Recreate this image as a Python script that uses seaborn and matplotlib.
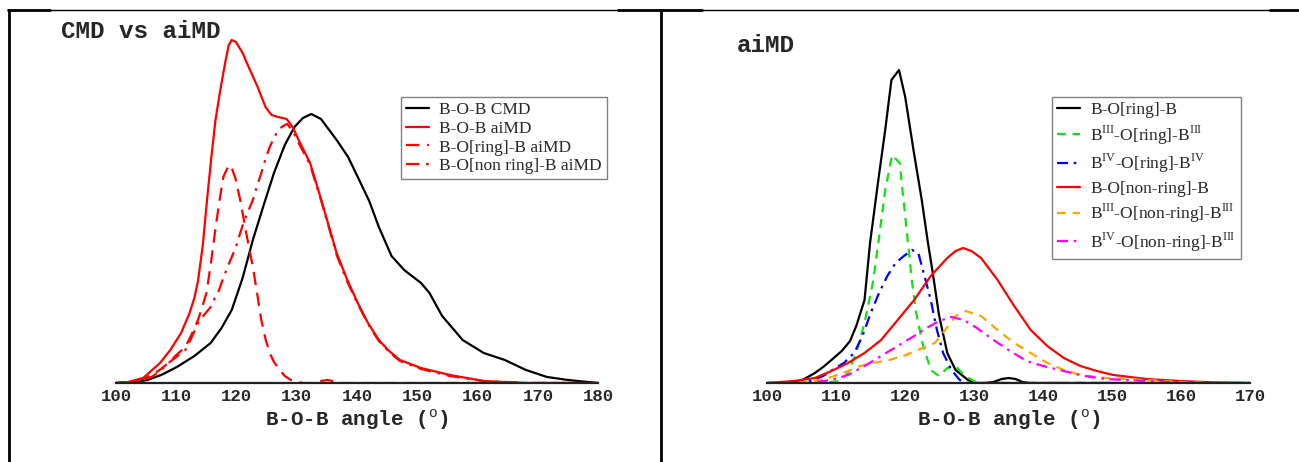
import matplotlib
matplotlib.use("Agg")
import matplotlib.pyplot as plt
import seaborn as sns
import numpy as np
from matplotlib.lines import Line2D

# ---------------- data (heights in arbitrary units) ----------------
# left panel: CMD vs aiMD
cmd_x = [100, 103, 105.2, 107.5, 110.1, 113, 115.7, 117.5, 119.2, 121, 122.7, 124.5, 126.2, 128,
         129.6, 131, 132.4, 134, 136.6, 138.5, 140.1, 142, 143.6, 145.7, 147.8, 150.6, 152, 154.1,
         157.5, 161, 164.5, 168, 171.5, 175, 180]
cmd_y = [0, 1, 3, 8, 16, 27, 40, 55, 73, 105, 143, 178, 210, 238, 256, 265, 269, 264, 243, 226,
         206, 182, 156, 127, 113, 100, 90, 67, 43, 30, 23, 13, 6, 3, 0]

aimd_x = [100, 102, 104.5, 107.3, 109, 110.8, 112.2, 113.0, 113.6, 114.4, 115.1, 115.8, 116.5,
          117.3, 118.1, 118.7, 119.2, 119.9, 121, 122, 123.5, 124.8, 125.8, 126.9, 128.3, 129.3,
          130.3, 132.2, 133.9, 135.3, 136.6, 138.3, 140.1, 141.8, 143.6, 145.3, 147.1, 150.6,
          155.4, 161, 168, 180]
aimd_y = [0, 1, 5, 20, 33, 50, 70, 85, 102, 138, 183, 225, 263, 293, 320, 338, 343, 341, 330,
          316, 296, 276, 268, 266, 264, 256, 243, 220, 186, 157, 130, 104, 80, 60, 43, 32, 23,
          15, 8, 2, 0, 0]

ring_x = [100, 103, 105.2, 107, 108.7, 110, 111.5, 112.5, 113.6, 114.3, 115, 115.7, 116.4, 117.1,
          117.8, 118.4, 119, 119.8, 120.6, 121.6, 122.7, 123.4, 124.1, 124.8, 125.5, 126.2, 126.9,
          128, 129, 131, 133, 134, 135, 136, 137, 140, 180]
ring_y = [0, 1, 6, 12, 20, 28, 36, 48, 63, 76, 90, 118, 150, 180, 206, 214, 218, 205, 183, 150,
          116, 90, 63, 44, 30, 21, 15, 7, 3, 0, 0, 2, 3, 2, 0, 0, 0]

nonring_x = [100, 103, 105.9, 107.5, 108.7, 110, 111.5, 112.5, 113.6, 114.6, 115.7, 116.4, 117.1,
             117.8, 118.5, 119.2, 119.9, 120.6, 121.3, 122, 122.7, 123.4, 124.1, 124.8, 125.5,
             126.2, 126.9, 127.7, 128.4, 129.3, 130.3, 132.2, 133.9, 135.3, 136.6, 138.3, 140.1,
             141.8, 143.6, 145.3, 147.1, 150.6, 155.4, 161, 168, 180]
nonring_y = [0, 1, 6, 13, 20, 26, 33, 45, 60, 68, 76, 85, 93, 105, 116, 126, 136, 150, 163, 173,
             183, 197, 210, 224, 236, 245, 253, 257, 259, 252, 240, 218, 185, 156, 128, 102, 79,
             59, 42, 31, 22, 14, 7, 2, 0, 0]

# right panel: aiMD decomposition
r_ring_x = [100, 103, 105.1, 106.9, 108.1, 109.3, 110.8, 112.0, 112.9, 114.1, 114.9, 116.1, 117.1,
            118.0, 119.1, 120.0, 121.2, 122.4, 123.3, 124.0, 124.9, 126.1, 127.3, 129.1, 130.4,
            131.5, 132.8, 134, 135, 136, 137, 138, 140, 170]
r_ring_y = [0, 0, 3, 10, 16, 23, 32, 42, 57, 83, 140, 203, 253, 303, 313, 286, 233, 183, 140, 110,
            68, 30, 13, 3, 0, 0, 1, 4, 5, 4, 1, 0, 0, 0]

b3_ring_x = [100, 108, 110.5, 111.7, 112.9, 114.1, 115.3, 116.1, 117.1, 118.1, 119.2, 119.8,
             120.4, 121.0, 121.6, 122.5, 123.7, 124.9, 126.1, 127.3, 128.5, 130.4, 170]
b3_ring_y = [0, 0, 2, 10, 30, 60, 100, 140, 193, 228, 220, 180, 140, 100, 70, 40, 13, 7, 15, 17,
             8, 0, 0]

b4_ring_x = [100, 104, 106.3, 108.1, 109.9, 111.1, 112.6, 113.8, 115.0, 116.2, 117.4, 118.6,
             119.8, 121.0, 121.9, 122.8, 123.7, 124.6, 125.5, 126.7, 127.9, 129, 170]
b4_ring_y = [0, 0, 2, 7, 15, 20, 30, 47, 70, 90, 107, 120, 127, 133, 130, 107, 83, 53, 30, 13,
             3, 0, 0]

r_nonring_x = [100, 103.9, 106.9, 109.3, 111.7, 114.1, 116.5, 118.9, 121.3, 123.7, 126.1, 127.3,
               128.4, 129.6, 131.0, 133.4, 135.8, 138.2, 140.6, 143.0, 145.4, 147.8, 150.2, 155,
               159.8, 165.2, 170]
r_nonring_y = [0, 2, 5, 12, 20, 30, 43, 63, 83, 107, 125, 132, 135, 132, 125, 103, 77, 53, 37,
               25, 17, 12, 8, 4, 2, 0.5, 0]

b3_nonring_x = [100, 104, 106.9, 109.3, 111.7, 113.5, 115.3, 117.7, 120.1, 122.5, 124.3, 125.8,
                127.3, 128.8, 131.0, 133.4, 135.8, 138.2, 140.6, 143.0, 145.4, 149, 155, 160,
                165, 170]
b3_nonring_y = [0, 0, 2, 6, 12, 17, 20, 23, 28, 35, 40, 53, 67, 72, 67, 53, 40, 30, 20, 13, 8,
                5, 3, 1, 0, 0]

b4_nonring_x = [100, 106, 109.3, 111.7, 114.1, 116.5, 118.9, 121.3, 123.1, 124.9, 126.7, 128.5,
                130.4, 132.8, 135.2, 137.6, 140.0, 143.0, 146, 149, 155, 160, 170]
b4_nonring_y = [0, 0, 3, 8, 17, 27, 37, 47, 55, 62, 66, 63, 55, 43, 32, 22, 17, 12, 7, 4, 2,
                0.5, 0]

left_series = [
    (cmd_x, cmd_y, "B-O-B CMD", "black", "-"),
    (aimd_x, aimd_y, "B-O-B aiMD", "red", "-"),
    (ring_x, ring_y, "B-O[ring]-B aiMD", "red", (0, (6, 3.5))),
    (nonring_x, nonring_y, "B-O[non ring]-B aiMD", "red", (0, (6, 3, 1.2, 3))),
]
right_series = [
    (r_ring_x, r_ring_y, "B-O[ring]-B", "black", "-"),
    (b3_ring_x, b3_ring_y, r"B$^{\mathrm{III}}$-O[ring]-B$^{\mathrm{III}}$", "#11e011", (0, (4, 3))),
    (b4_ring_x, b4_ring_y, r"B$^{\mathrm{IV}}$-O[ring]-B$^{\mathrm{IV}}$", "blue", (0, (5, 2.5, 1.2, 2.5))),
    (r_nonring_x, r_nonring_y, "B-O[non-ring]-B", "red", "-"),
    (b3_nonring_x, b3_nonring_y, r"B$^{\mathrm{III}}$-O[non-ring]-B$^{\mathrm{III}}$", "orange", (0, (4, 3))),
    (b4_nonring_x, b4_nonring_y, r"B$^{\mathrm{IV}}$-O[non-ring]-B$^{\mathrm{III}}$", "magenta", (0, (5, 2.5, 1.2, 2.5))),
]

# ---------------- figure ----------------
sns.set_style("white")
plt.rcParams['font.family'] = ['Liberation Mono', 'DejaVu Sans']
plt.rcParams['mathtext.fontset'] = 'custom'
plt.rcParams['mathtext.rm'] = 'Liberation Serif'
plt.rcParams['mathtext.tt'] = 'Liberation Mono'

W, H = 1299, 462
fig = plt.figure(figsize=(W / 100, H / 100), dpi=100)
fig.patch.set_facecolor("white")


def fx(x):
    return x / W


def fy(y):
    return 1 - y / H


base_y = 383
ax_h = 372


def make_axes(x0, x1, xmax, series, legend_xy, spacing, title, title_xy):
    ax = fig.add_axes([fx(x0), fy(base_y), fx(x1) - fx(x0), ax_h / H])
    for xs, ys, lab, col, ls in series:
        sns.lineplot(x=xs, y=ys, ax=ax, color=col, linestyle=ls, linewidth=1.6, label=lab)
    ax.set_xlim(100, xmax)
    ax.set_ylim(0, ax_h)
    for s in ["left", "right", "top"]:
        ax.spines[s].set_visible(False)
    ax.spines["bottom"].set_linewidth(1.6)
    ax.spines["bottom"].set_color("#222222")
    ax.set_yticks([])
    ax.set_xticks(np.arange(100, xmax + 1, 10))
    ax.set_xticks(np.arange(105, xmax, 10), minor=True)
    ax.tick_params(axis="x", which="major", direction="in", length=6, width=1.4, pad=4,
                   labelsize=12.5, color="#222222")
    ax.tick_params(axis="x", which="minor", direction="in", length=3.5, width=1.4)
    for t in ax.get_xticklabels():
        t.set_fontweight("bold")
    ax.set_xlabel(r"B-O-B angle ($^{\mathtt{o}}$)", fontsize=15, fontweight="bold", labelpad=3)
    ax.set_ylabel("")
    ax.patch.set_alpha(0)
    leg = ax.legend(loc="upper left", bbox_to_anchor=(fx(legend_xy[0]), fy(legend_xy[1])),
                    bbox_transform=fig.transFigure, borderaxespad=0, fancybox=False,
                    framealpha=1, edgecolor="#808080", handlelength=1.3, handletextpad=0.6,
                    borderpad=0.3, labelspacing=spacing,
                    prop={"family": "Liberation Serif", "size": 12.5})
    leg.get_frame().set_linewidth(1.0)
    fig.text(fx(title_xy[0]), fy(title_xy[1]), title, fontsize=17.5, fontweight="bold",
             family="Liberation Mono", va="baseline", ha="left")
    return ax


make_axes(116, 598.3, 180, left_series, (401, 97), 0.14, "CMD vs aiMD", (61, 38))
make_axes(767.3, 1250, 170, right_series, (1052, 97), 0.3, "aiMD", (737, 52))

# outer table-like frame
frame = [
    ((8, 10), (1299, 10), 1.0),
    ((8, 10), (50, 10), 2.0),
    ((618, 10), (702, 10), 2.0),
    ((1270, 10), (1299, 10), 2.0),
    ((8.5, 10), (8.5, 462), 2.0),
    ((661, 10), (661, 462), 2.0),
]
for (xa, ya), (xb, yb), lw in frame:
    fig.add_artist(Line2D([fx(xa), fx(xb)], [fy(ya), fy(yb)], color="black", linewidth=lw,
                          transform=fig.transFigure))

fig.savefig("out.png", dpi=100, facecolor="white")
